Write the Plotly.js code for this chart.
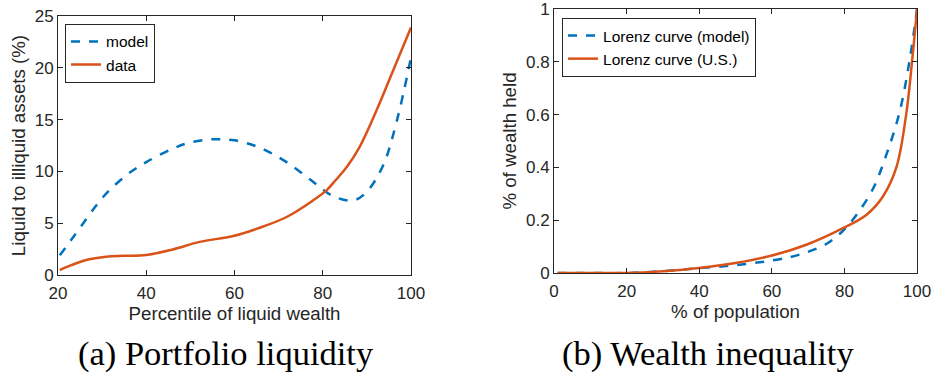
<!DOCTYPE html>
<html><head><meta charset="utf-8">
<script src="https://cdn.plot.ly/plotly-3.0.1.min.js"></script>
<style>html,body{margin:0;padding:0;background:#fff}#chart{width:933px;height:373px}</style>
</head><body><div id="chart"></div>
<script>
// Panel (a): portfolio liquidity
const pctA = [20.4, 23, 26.4, 29, 31.7, 36, 40, 46, 50, 55, 60, 65.7, 71.8, 77.8, 82.4, 86.9, 89.9, 93.7, 96.8, 100];
const modelA = [1.9, 3.4, 5.4, 6.9, 8.2, 9.8, 10.9, 12.2, 12.8, 13.1, 13.0, 12.3, 10.9, 9.0, 7.6, 7.2, 8.0, 10.6, 14.9, 21.0];
const pctD = [20.4, 23, 26.4, 30.9, 35, 40, 46, 52.1, 59.7, 65.7, 71.8, 77.8, 80.9, 83, 85.4, 88.4, 92.2, 96, 100];
const dataA = [0.48, 0.95, 1.45, 1.77, 1.85, 1.93, 2.47, 3.2, 3.76, 4.56, 5.6, 7.2, 8.2, 9.2, 10.4, 12.4, 15.9, 19.8, 23.9];
// Panel (b): Lorenz curves
const popM = [1, 10, 20, 30, 40, 49.3, 60.3, 67.7, 75, 79.6, 83.3, 87.9, 91.6, 95.2, 98, 100];
const lorM = [0, 0, 0, 0.007, 0.018, 0.029, 0.048, 0.07, 0.11, 0.16, 0.22, 0.32, 0.45, 0.61, 0.81, 1.0];
const popU = [1, 10, 20, 30, 40, 50, 60.3, 69.5, 79.6, 86, 90.6, 94.3, 97, 98.9, 100];
const lorU = [0, 0, 0, 0.007, 0.019, 0.038, 0.067, 0.107, 0.17, 0.22, 0.29, 0.40, 0.60, 0.84, 1.0];

const labelsA = ['model', 'data'];
const labelsB = ['Lorenz curve (model)', 'Lorenz curve (U.S.)'];
const ticksAx = [20, 40, 60, 80, 100];
const ticksAy = [0, 5, 10, 15, 20, 25];
const ticksBx = [0, 20, 40, 60, 80, 100];
const ticksBy = [0, 0.2, 0.4, 0.6, 0.8, 1];

const BLUE = '#0072BD', ORANGE = '#D95319';
const traces = [
  {x: pctA, y: modelA, name: labelsA[0], type: 'scatter', mode: 'lines', line: {color: BLUE, width: 2.5, dash: 'dash', shape: 'spline'}, xaxis: 'x', yaxis: 'y', legend: 'legend'},
  {x: pctD, y: dataA, name: labelsA[1], type: 'scatter', mode: 'lines', line: {color: ORANGE, width: 2.5, shape: 'spline'}, xaxis: 'x', yaxis: 'y', legend: 'legend'},
  {x: popM, y: lorM, name: labelsB[0], type: 'scatter', mode: 'lines', line: {color: BLUE, width: 2.5, dash: 'dash', shape: 'spline'}, xaxis: 'x2', yaxis: 'y2', legend: 'legend2'},
  {x: popU, y: lorU, name: labelsB[1], type: 'scatter', mode: 'lines', line: {color: ORANGE, width: 2.5, shape: 'spline'}, xaxis: 'x2', yaxis: 'y2', legend: 'legend2'}
];

const SANS = 'Liberation Sans, Arial, sans-serif';
const axBase = {
  showline: true, linecolor: '#262626', linewidth: 1, mirror: 'ticks',
  ticks: 'inside', ticklen: 5, tickcolor: '#262626',
  showgrid: false, zeroline: false, tickmode: 'array', ticklabeloverflow: 'allow',
  tickfont: {family: SANS, size: 17, color: '#262626'},
  fixedrange: true
};
const tfont = {family: SANS, size: 18.7, color: '#262626'};
const lfont = {family: SANS, size: 15.5, color: '#000'};
const cfont = {family: 'Liberation Serif, Times New Roman, serif', size: 34.5, color: '#000'};

const layout = {
  width: 933, height: 373,
  margin: {l: 0, r: 0, t: 0, b: 0},
  paper_bgcolor: '#fff', plot_bgcolor: '#fff',
  showlegend: true,
  xaxis: Object.assign({}, axBase, {domain: [0.0622, 0.4405], range: [20, 100], tickvals: ticksAx, anchor: 'y', ticklabelstandoff: 3,
    title: {text: 'Percentile of liquid wealth', font: tfont, standoff: 2}}),
  yaxis: Object.assign({}, axBase, {domain: [0.2627, 0.957], range: [0, 25], tickvals: ticksAy, anchor: 'x',
    title: {text: 'Liquid to illiquid assets (%)', font: tfont, standoff: 4}}),
  xaxis2: Object.assign({}, axBase, {domain: [0.5938, 0.9829], range: [0, 100], tickvals: ticksBx, anchor: 'y2', ticklabelstandoff: 3,
    title: {text: '% of population', font: tfont, standoff: 2}}),
  yaxis2: Object.assign({}, axBase, {domain: [0.2681, 0.9759], range: [0, 1], tickvals: ticksBy, anchor: 'x2',
    title: {text: '% of wealth held', font: tfont, standoff: 4}}),
  legend: {x: 0.0697, y: 0.936, xanchor: 'left', yanchor: 'top', bgcolor: '#fff', bordercolor: '#262626', borderwidth: 1,
    font: lfont, tracegroupgap: 0, itemwidth: 30},
  legend2: {x: 0.6024, y: 0.952, xanchor: 'left', yanchor: 'top', bgcolor: '#fff', bordercolor: '#262626', borderwidth: 1,
    font: lfont, tracegroupgap: 0, itemwidth: 30},
  annotations: [
    {text: '(a) Portfolio liquidity', xref: 'paper', yref: 'paper', x: 226/933, y: (373-353)/373, xanchor: 'center', yanchor: 'middle', showarrow: false, font: cfont},
    {text: '(b) Wealth inequality', xref: 'paper', yref: 'paper', x: 708/933, y: (373-353)/373, xanchor: 'center', yanchor: 'middle', showarrow: false, font: cfont}
  ]
};

Plotly.newPlot('chart', traces, layout, {displayModeBar: false, staticPlot: true});
</script>
</body></html>
